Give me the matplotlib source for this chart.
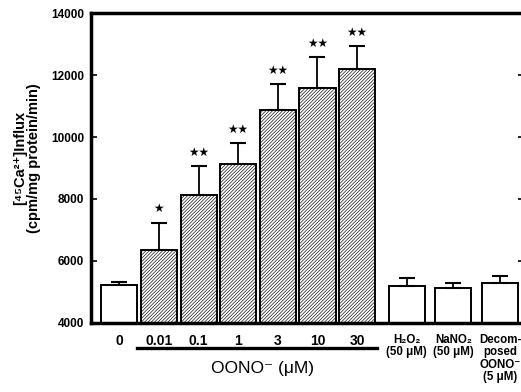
import numpy as np
import matplotlib
matplotlib.use('Agg')
import matplotlib.pyplot as plt
import matplotlib.transforms as mtransforms

plt.rcParams['font.family'] = ['Liberation Sans', 'DejaVu Sans']
plt.rcParams['hatch.linewidth'] = 0.45

# OONO- dose series
doses = ['0', '0.01', '0.1', '1', '3', '10', '30']
influx = [5210, 6350, 8110, 9140, 10890, 11600, 12200]
influx_sem = [90, 880, 950, 660, 820, 980, 730]
signif = ['', '*', '**', '**', '**', '**', '**']

# controls
controls = ['H\u2082O\u2082\n(50 \u03bcM)', 'NaNO\u2082\n(50 \u03bcM)',
            'Decom-\nposed\nOONO\u207b\n(5 \u03bcM)']
ctrl_influx = [5190, 5130, 5280]
ctrl_sem = [260, 160, 220]

fig = plt.figure(figsize=(5.21, 3.92), dpi=100)
ax = fig.add_axes([0.175, 0.177, 0.83, 0.789])

x_dose = np.arange(len(doses))
x_ctrl = 7.25 + np.arange(len(controls)) * 1.18
w = 0.91

# control at 0 is open, the rest hatched
ax.bar(x_dose[:1], influx[:1], w, color='white', edgecolor='black', linewidth=1.4)
ax.bar(x_dose[1:], influx[1:], w, color='white', edgecolor='black', linewidth=1.4,
       hatch='//////////')
ax.bar(x_ctrl, ctrl_influx, w, color='white', edgecolor='black', linewidth=1.4)

ax.errorbar(x_dose, influx, yerr=[np.zeros(len(doses)), influx_sem], fmt='none',
            ecolor='black', elinewidth=1.3, capsize=6, capthick=1.5)
ax.errorbar(x_ctrl, ctrl_influx, yerr=[np.zeros(len(controls)), ctrl_sem], fmt='none',
            ecolor='black', elinewidth=1.3, capsize=6, capthick=1.5)

for xi, m, e, s in zip(x_dose, influx, influx_sem, signif):
    if s:
        ax.text(xi, m + e + 450, s.replace('*', '\u2605'), ha='center', va='center',
                fontsize=8.5, family='DejaVu Sans')

ax.set_ylim(4000, 14000)
ax.set_xlim(-0.71, 10.2)
ax.set_yticks(np.arange(4000, 14001, 2000))
ax.tick_params(axis='y', direction='in', length=4, width=1.2, labelsize=8.5, pad=5,
               right=True)
for lbl in ax.get_yticklabels():
    lbl.set_fontweight('bold')

ax.set_xticks(list(x_dose) + list(x_ctrl), doses + controls)
ax.tick_params(axis='x', length=0, pad=8)
for i, lbl in enumerate(ax.get_xticklabels()):
    lbl.set_fontweight('bold')
    if i < len(doses):
        lbl.set_fontsize(10)
    else:
        lbl.set_fontsize(8.3)
        lbl.set_linespacing(1.05)

for sp in ['left', 'top', 'bottom']:
    ax.spines[sp].set_linewidth(2.5)
ax.spines['right'].set_visible(False)

# line under the OONO- doses
trans = mtransforms.blended_transform_factory(ax.transData, ax.transAxes)
ax.plot([x_dose[1] - 0.55, x_dose[-1] + 0.5], [-0.083, -0.083], color='black', lw=2.4,
        transform=trans, clip_on=False)
ax.text(x_dose[1:].mean() + 0.12, -0.148, 'OONO\u207b (\u03bcM)', transform=trans,
        ha='center', va='center', fontsize=12.5)

fig.text(0.052, 0.597, '[\u2074\u2075Ca\u00b2\u207a]Influx\n(cpm/mg protein/min)',
         rotation=90, ha='center', va='center', fontsize=10.5, fontweight='bold',
         linespacing=1.0)

fig.savefig('out.png', dpi=100)
